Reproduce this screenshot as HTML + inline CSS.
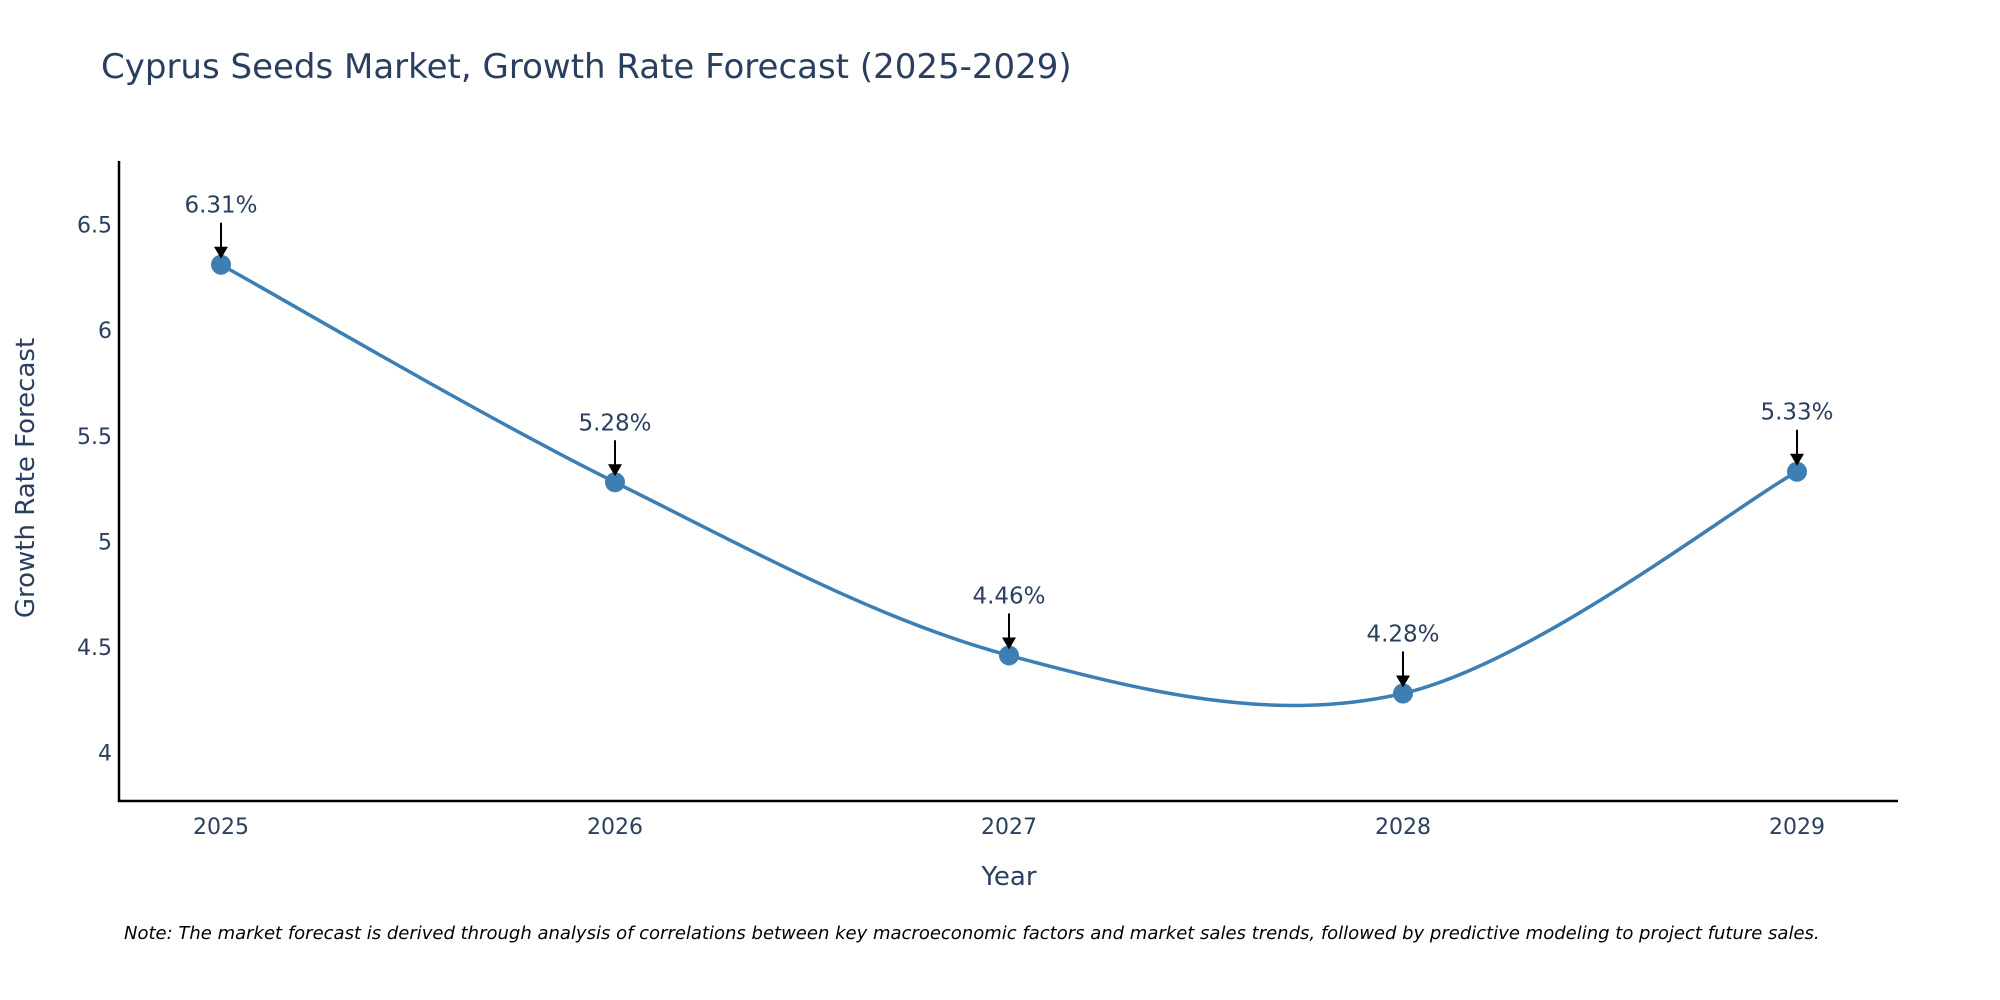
<!DOCTYPE html>
<html><head><meta charset="utf-8"><style>
body{margin:0;background:#fff;}
svg{display:block;font-family:"DejaVu Sans","Liberation Sans",sans-serif;}
</style></head><body>
<svg id="chart" width="2000" height="1000" viewBox="0 0 2000 1000">
<text x="101" y="78" font-size="34" fill="#2a3f5f">Cyprus Seeds Market, Growth Rate Forecast (2025-2029)</text>
<g id="yticks"></g>
<g id="xticks"></g>
<line x1="119" y1="161" x2="119" y2="802" stroke="#000" stroke-width="2.5"/>
<line x1="118" y1="801" x2="1898" y2="801" stroke="#000" stroke-width="2.5"/>
<path id="line" fill="none" stroke="#3d7fb3" stroke-width="3.5"/>
<g id="points"></g>
<g id="annots"></g>
<text x="1009" y="885" font-size="26" fill="#2a3f5f" text-anchor="middle">Year</text>
<text transform="translate(34,478) rotate(-90)" font-size="26" fill="#2a3f5f" text-anchor="middle">Growth Rate Forecast</text>
<text x="124" y="939" font-size="18" font-style="italic" fill="#000">Note: The market forecast is derived through analysis of correlations between key macroeconomic factors and market sales trends, followed by predictive modeling to project future sales.</text>
</svg>
<script>
const years=["2025","2026","2027","2028","2029"];
const values=[6.31,5.28,4.46,4.28,5.33];
const labels=["6.31%","5.28%","4.46%","4.28%","5.33%"];
const yTicks=[4,4.5,5,5.5,6,6.5];
const NS="http://www.w3.org/2000/svg";
function xs(i){return 221+i*394;}
function ys(v){return 752.6-(v-4)*211.2;}
function mk(t,a,p){const e=document.createElementNS(NS,t);for(const k in a)e.setAttribute(k,a[k]);p.appendChild(e);return e;}
const yt=document.getElementById('yticks');
yTicks.forEach(v=>{const t=mk('text',{x:112,y:ys(v)+8,'font-size':22,fill:'#2a3f5f','text-anchor':'end'},yt);t.textContent=String(v);

});
const xt=document.getElementById('xticks');
years.forEach((y,i)=>{const t=mk('text',{x:xs(i),y:834,'font-size':22,fill:'#2a3f5f','text-anchor':'middle'},xt);t.textContent=y;

});
const P=values.map((v,i)=>[xs(i),ys(v)]);
let d='M'+P[0][0]+','+P[0][1];const k=1/6;
for(let i=0;i<P.length-1;i++){const p0=P[i-1]||P[i],p1=P[i],p2=P[i+1],p3=P[i+2]||P[i+1];
const c1=[p1[0]+(p2[0]-p0[0])*k,p1[1]+(p2[1]-p0[1])*k];
const c2=[p2[0]-(p3[0]-p1[0])*k,p2[1]-(p3[1]-p1[1])*k];
d+=` C${c1[0]},${c1[1]} ${c2[0]},${c2[1]} ${p2[0]},${p2[1]}`;}
document.getElementById('line').setAttribute('d',d);
const pg=document.getElementById('points'),ag=document.getElementById('annots');
P.forEach((p,i)=>{const c=mk('circle',{cx:p[0],cy:p[1],r:10,fill:'#3d7fb3'},pg);


const l=mk('line',{x1:p[0],y1:p[1]-42,x2:p[0],y2:p[1]-14,stroke:'#000','stroke-width':2},ag);


const h=mk('polygon',{points:`${p[0]-7},${p[1]-18} ${p[0]+7},${p[1]-18} ${p[0]},${p[1]-6}`,fill:'#000'},ag);


const t=mk('text',{x:p[0],y:p[1]-52,'font-size':23,fill:'#2a3f5f','text-anchor':'middle'},ag);t.textContent=labels[i];

});
</script>
</body></html>
